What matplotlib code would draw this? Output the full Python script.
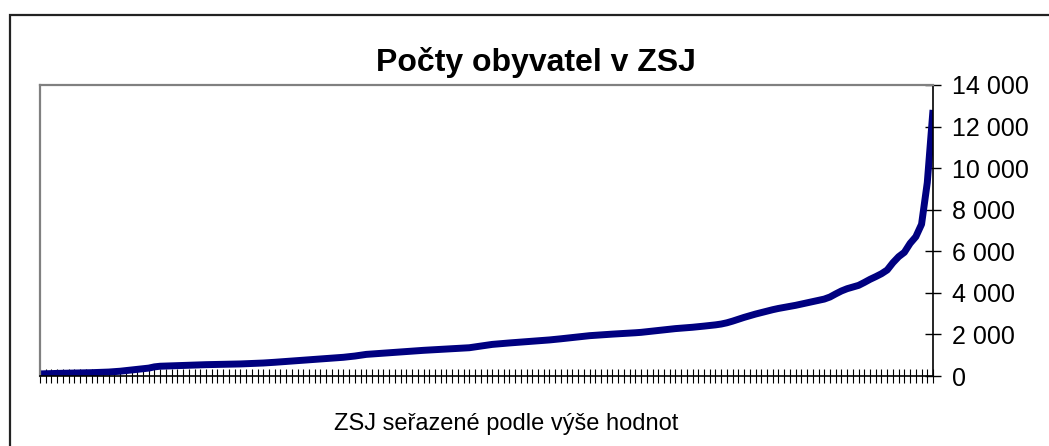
#!/usr/bin/env python3

import matplotlib
matplotlib.use("Agg")
import matplotlib.pyplot as plt
from matplotlib.patches import Rectangle
from matplotlib.ticker import FuncFormatter, MultipleLocator

TITLE = "Počty obyvatel v ZSJ"
X_LABEL = "ZSJ seřazené podle výše hodnot"
LINE_COLOUR = "#000080"

# population per ZSJ, sorted ascending
population = [
    100, 110, 120, 125, 130, 135, 140, 150, 155, 160, 170, 180, 190,
    210, 230, 260, 290, 320, 350, 380,
    440, 470, 480, 490, 500, 510, 520, 530,
    540, 545, 550, 555, 560, 570, 575, 580, 590, 600, 610,
    625, 640, 660, 680, 700, 720, 740, 760, 780, 800,
    820, 840, 860, 880, 900, 930, 960, 1000, 1040,
    1060, 1080, 1100, 1120, 1140, 1160, 1180, 1200, 1220,
    1235, 1250, 1265, 1280, 1295, 1310, 1325, 1340, 1360, 1400, 1440,
    1480, 1520, 1545, 1570, 1590, 1610, 1630, 1650, 1670, 1690, 1710, 1735, 1760,
    1790, 1820, 1850, 1880, 1910, 1940,
    1960, 1980, 2000, 2015, 2030, 2045, 2060, 2080, 2100, 2130, 2160,
    2190, 2220, 2250, 2280, 2300, 2320, 2345, 2370,
    2400, 2430, 2460, 2500, 2560, 2640, 2730, 2820,
    2900, 2980, 3050, 3120, 3190, 3250,
    3300, 3350, 3400, 3460, 3520, 3580, 3640, 3700,
    3800, 3950, 4090, 4200, 4280, 4360, 4500, 4650,
    4780, 4920, 5100, 5450, 5740, 5950, 6380, 6700, 7300, 9300, 12800,
]

Y_MAX = 14000
Y_STEP = 2000


def thousands(value, _pos):
    return f"{int(value):,}".replace(",", " ")


def main():
    plt.rcParams["font.family"] = ["Liberation Sans", "DejaVu Sans"]

    fig = plt.figure(figsize=(10.49, 4.46), dpi=100)
    ax = fig.add_axes([40 / 1049, 1 - 376 / 446, 893 / 1049, 291 / 446])

    # outer chart frame, cut off at the right and bottom like the original
    fig.patches.append(Rectangle((9.5 / 1049, -0.1), 1.2, 1 - 14.5 / 446 + 0.1,
                                 transform=fig.transFigure, fill=False,
                                 edgecolor="#222222", linewidth=1.6))

    ax.plot(range(len(population)), population, color=LINE_COLOUR, linewidth=5,
            solid_joinstyle="round", solid_capstyle="butt")

    ax.set_xlim(0, len(population) - 1)
    ax.set_ylim(0, Y_MAX)
    ax.xaxis.set_major_locator(MultipleLocator(1))
    ax.xaxis.set_major_formatter(FuncFormatter(lambda v, p: ""))
    ax.yaxis.set_major_locator(MultipleLocator(Y_STEP))
    ax.yaxis.set_major_formatter(FuncFormatter(thousands))
    ax.yaxis.tick_right()

    ax.tick_params(axis="x", direction="inout", length=10, width=0.8, color="black")
    ax.tick_params(axis="y", direction="inout", length=11, width=1.0, color="black",
                   labelsize=18, pad=8)

    for side in ("top", "left"):
        ax.spines[side].set_color("#808080")
        ax.spines[side].set_linewidth(1.6)
    for side in ("right", "bottom"):
        ax.spines[side].set_color("black")
        ax.spines[side].set_linewidth(1.2)

    fig.text(536 / 1049, 1 - 62 / 446, TITLE, ha="center", va="center",
             fontsize=23, fontweight="bold")
    fig.text(506 / 1049, 1 - 424 / 446, X_LABEL, ha="center", va="center",
             fontsize=17)

    fig.savefig("out.png", dpi=100)


if __name__ == "__main__":
    main()
